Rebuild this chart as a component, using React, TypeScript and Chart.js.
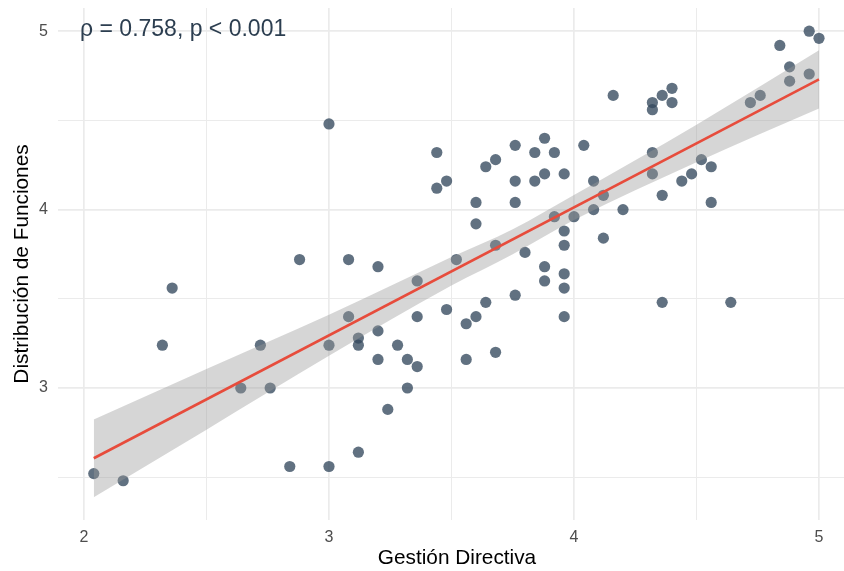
import React, { useEffect, useRef } from "react";
import { Chart, registerables } from "chart.js";

Chart.register(...registerables);

// Gestión Directiva (x) and Distribución de Funciones (y), one entry per respondent
const gestionDirectiva: number[] = [
  3.00, 3.44, 3.48, 3.44, 2.88, 3.08, 3.20, 3.36, 3.52, 2.36,
  4.96, 5.00, 4.84, 4.88, 4.88, 4.96, 4.72, 4.76, 4.16, 4.32,
  4.32, 4.36, 4.40, 4.40, 3.60, 3.60, 3.64, 3.68, 3.76, 3.76,
  3.76, 3.84, 3.84, 3.88, 3.88, 3.92, 3.96, 4.04, 4.08, 4.32,
  4.32, 4.52, 4.56, 4.48, 4.44, 4.36, 4.56, 4.08, 4.12, 4.20,
  4.00, 3.92, 3.96, 3.96, 4.12, 3.68, 3.80, 3.88, 3.88, 3.96,
  3.96, 3.76, 3.64, 3.60, 3.56, 3.48, 3.96, 3.56, 3.68, 4.36,
  4.64, 3.08, 3.36, 3.20, 3.12, 3.12, 3.00, 2.72, 2.32, 3.28,
  3.20, 3.32, 3.36, 3.32, 2.64, 2.76, 3.24, 3.12, 2.84, 3.00,
  2.04, 2.16,
];
const distribucionFunciones: number[] = [
  4.48, 4.32, 4.16, 4.12, 3.72, 3.72, 3.68, 3.60, 3.72, 3.56,
  5.00, 4.96, 4.92, 4.80, 4.72, 4.76, 4.60, 4.64, 4.64, 4.60,
  4.56, 4.64, 4.68, 4.60, 4.04, 3.92, 4.24, 4.28, 4.36, 4.16,
  4.04, 4.32, 4.16, 4.40, 4.20, 4.32, 4.20, 4.36, 4.16, 4.32,
  4.20, 4.28, 4.24, 4.20, 4.16, 4.08, 4.04, 4.00, 4.08, 4.00,
  3.96, 3.96, 3.88, 3.80, 3.84, 3.80, 3.76, 3.68, 3.60, 3.64,
  3.56, 3.52, 3.48, 3.40, 3.36, 3.44, 3.40, 3.16, 3.20, 3.48,
  3.48, 3.40, 3.40, 3.32, 3.28, 3.24, 3.24, 3.24, 3.24, 3.24,
  3.16, 3.16, 3.12, 3.00, 3.00, 3.00, 2.88, 2.64, 2.56, 2.56,
  2.52, 2.48,
];

// Fitted line and 95% confidence band
const fitX: number[] = [2.04, 5.0];
const fitY: number[] = [2.606, 4.73];
const bandX: number[] = [2.04, 2.5, 3.0, 3.5, 3.75, 4.0, 4.5, 5.0];
const bandUpper: number[] = [2.824, 3.106, 3.41, 3.734, 3.89, 4.082, 4.476, 4.893];
const bandLower: number[] = [2.388, 2.766, 3.18, 3.574, 3.75, 3.942, 4.266, 4.567];

// Axis ticks
const xTicks: number[] = [2, 2.5, 3, 3.5, 4, 4.5, 5];
const yTicks: number[] = [2.5, 3, 3.5, 4, 4.5, 5];

const annotationText = "ρ = 0.758, p < 0.001";
const annotationX = 1.984;
const annotationY = 4.972;

const FONT = "'Liberation Sans', Arial, Helvetica, sans-serif";

export default function App() {
  const canvasRef = useRef<HTMLCanvasElement | null>(null);

  useEffect(() => {
    if (!canvasRef.current) return;
    Chart.defaults.font.family = FONT;

    const annotationPlugin = {
      id: "corrAnnotation",
      afterDatasetsDraw(chart: any) {
        const { ctx, scales } = chart;
        const px = scales.x.getPixelForValue(annotationX);
        const py = scales.y.getPixelForValue(annotationY);
        ctx.save();
        ctx.font = `23px ${FONT}`;
        ctx.fillStyle = "#2c3e50";
        ctx.textAlign = "left";
        ctx.textBaseline = "alphabetic";
        ctx.fillText(annotationText, px, py);
        ctx.restore();
      },
    };

    const gridWidth = (ctx: any) =>
      ctx.tick && Number.isInteger(ctx.tick.value) ? 1.7 : 1.0;

    const zeroPad = (scale: any) => {
      scale.paddingTop = 0;
      scale.paddingBottom = 0;
      scale.paddingLeft = 0;
      scale.paddingRight = 0;
    };

    const chart = new Chart(canvasRef.current, {
      type: "scatter",
      data: {
        datasets: [
          {
            label: "fit",
            data: fitX.map((x, i) => ({ x, y: fitY[i] })),
            showLine: true,
            borderColor: "#e74c3c",
            borderWidth: 2.6,
            pointRadius: 0,
            pointHoverRadius: 0,
          },
          {
            label: "upper",
            data: bandX.map((x, i) => ({ x, y: bandUpper[i] })),
            showLine: true,
            borderWidth: 0,
            borderColor: "rgba(0,0,0,0)",
            backgroundColor: "rgba(153,153,153,0.4)",
            fill: "+1",
            cubicInterpolationMode: "monotone",
            pointRadius: 0,
            pointHoverRadius: 0,
          },
          {
            label: "lower",
            data: bandX.map((x, i) => ({ x, y: bandLower[i] })),
            showLine: true,
            borderWidth: 0,
            borderColor: "rgba(0,0,0,0)",
            cubicInterpolationMode: "monotone",
            pointRadius: 0,
            pointHoverRadius: 0,
          },
          {
            label: "points",
            data: gestionDirectiva.map((x, i) => ({ x, y: distribucionFunciones[i] })),
            backgroundColor: "rgba(52,73,94,0.78)",
            borderWidth: 0,
            pointRadius: 5.6,
            pointHoverRadius: 5.6,
          },
        ],
      },
      options: {
        responsive: false,
        animation: false,
        layout: { autoPadding: false, padding: { top: 8, left: 0, right: 0, bottom: 0 } },
        plugins: {
          legend: { display: false },
          tooltip: { enabled: false },
        },
        scales: {
          x: {
            type: "linear",
            min: 1.894,
            max: 5.151,
            afterBuildTicks: (scale: any) => {
              scale.ticks = xTicks.map((v) => ({ value: v }));
            },
            afterFit: (scale: any) => {
              scale.height = 51;
              zeroPad(scale);
            },
            ticks: {
              padding: 8,
              color: "#4d4d4d",
              font: { size: 16 },
              callback: (v: any) => (Number.isInteger(v) ? String(v) : ""),
            },
            grid: {
              color: "#ebebeb",
              lineWidth: gridWidth,
              drawTicks: false,
            },
            border: { display: false },
            title: {
              display: true,
              text: "Gestión Directiva",
              color: "#000000",
              font: { size: 20.8 },
              padding: { top: 0, bottom: 0 },
            },
          },
          y: {
            type: "linear",
            min: 2.26,
            max: 5.13,
            afterBuildTicks: (scale: any) => {
              scale.ticks = yTicks.map((v) => ({ value: v }));
            },
            afterFit: (scale: any) => {
              scale.width = 58;
              zeroPad(scale);
            },
            ticks: {
              padding: 10,
              color: "#4d4d4d",
              font: { size: 16 },
              callback: (v: any) => (Number.isInteger(v) ? String(v) : ""),
            },
            grid: {
              color: "#ebebeb",
              lineWidth: gridWidth,
              drawTicks: false,
            },
            border: { display: false },
            title: {
              display: true,
              text: "Distribución de Funciones",
              color: "#000000",
              font: { size: 20.8 },
              padding: { top: 10, bottom: 0 },
            },
          },
        },
      },
      plugins: [annotationPlugin],
    });

    return () => {
      chart.destroy();
    };
  }, []);

  return (
    <div
      style={{
        position: "fixed",
        left: 0,
        top: 0,
        width: 844,
        height: 571,
        overflow: "hidden",
        background: "#ffffff",
      }}
    >
      <canvas ref={canvasRef} width={856} height={571} style={{ width: 856, height: 571, display: "block" }} />
    </div>
  );
}
